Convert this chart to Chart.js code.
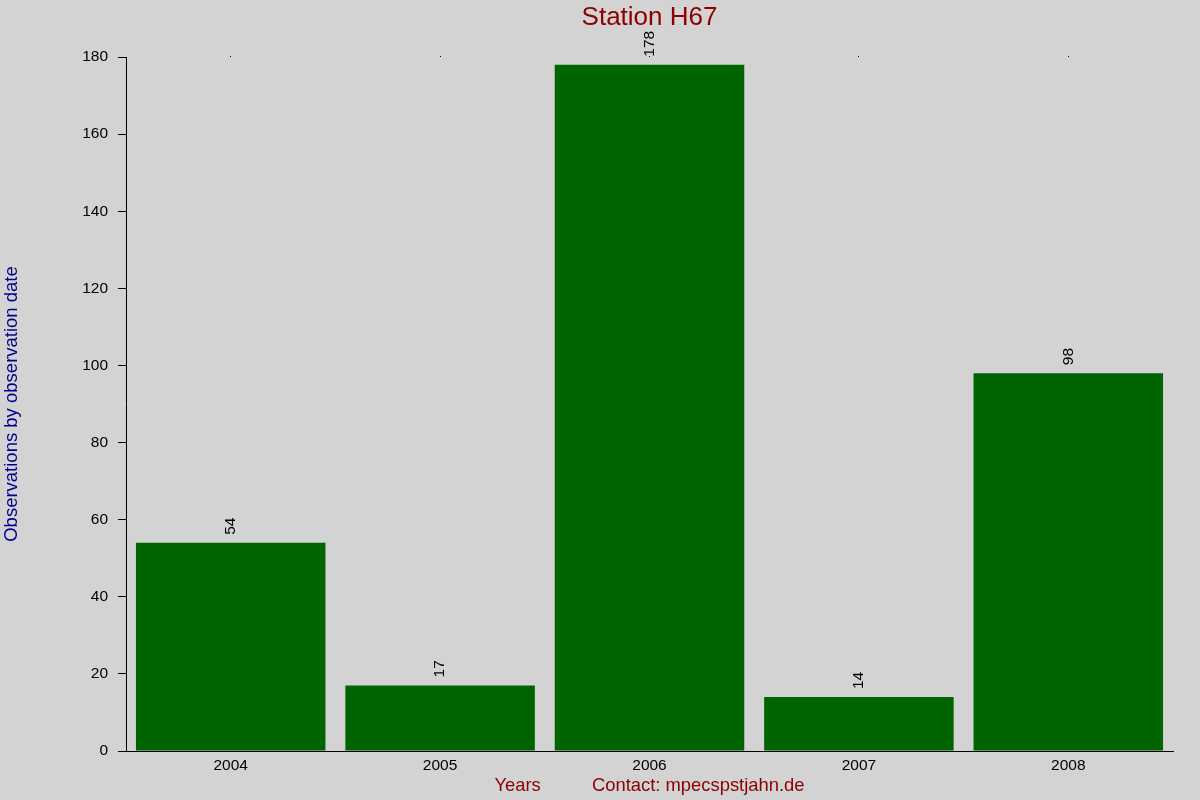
<!DOCTYPE html>
<html>
<head>
<meta charset="utf-8">
<script src="https://cdn.jsdelivr.net/npm/chart.js@4"></script>
<style>
  html, body { margin: 0; padding: 0; background: #d3d3d3; }
  #wrap { width: 1200px; height: 800px; position: relative; }
</style>
</head>
<body>
<div id="wrap"><canvas id="c"></canvas></div>
<script>
const years = ['2004', '2005', '2006', '2007', '2008'];
const observations = [54, 17, 178, 14, 98];
const yTicks = [0, 20, 40, 60, 80, 100, 120, 140, 160, 180];
const chartTitle = 'Station H67';

const FONT = "'Liberation Sans', Arial, sans-serif";

const bgPlugin = {
  id: 'bg',
  beforeDraw(chart) {
    const ctx = chart.ctx;
    ctx.save();
    ctx.fillStyle = '#d3d3d3';
    ctx.fillRect(0, 0, chart.width, chart.height);
    ctx.restore();
  }
};

const titlePlugin = {
  id: 'plotTitle',
  afterDraw(chart) {
    const ctx = chart.ctx;
    const a = chart.chartArea;
    ctx.save();
    ctx.fillStyle = '#8b0000';
    ctx.font = '26px ' + FONT;
    ctx.textAlign = 'center';
    ctx.textBaseline = 'middle';
    ctx.fillText(chartTitle, (a.left + a.right) / 2, 18);
    ctx.restore();
  }
};

const valueLabels = {
  id: 'valueLabels',
  afterDatasetsDraw(chart) {
    const ctx = chart.ctx;
    const meta = chart.getDatasetMeta(0);
    const data = chart.data.datasets[0].data;
    ctx.save();
    ctx.fillStyle = '#000';
    ctx.font = '15.5px ' + FONT;
    ctx.textAlign = 'left';
    ctx.textBaseline = 'middle';
    meta.data.forEach((bar, i) => {
      ctx.save();
      ctx.translate(bar.x, bar.y - 8);
      ctx.rotate(-Math.PI / 2);
      ctx.fillText(String(data[i]), 0, 0);
      ctx.restore();
    });
    ctx.restore();
  }
};

new Chart(document.getElementById('c'), {
  type: 'bar',
  data: {
    labels: years,
    datasets: [{
      data: observations,
      backgroundColor: '#006400',
      borderWidth: 0,
      barPercentage: 0.905,
      categoryPercentage: 1.0
    }]
  },
  options: {
    responsive: true,
    maintainAspectRatio: false,
    animation: false,
    devicePixelRatio: 1,
    layout: { padding: { left: 0, right: 27, top: 56, bottom: 0 } },
    plugins: {
      legend: { display: false },
      tooltip: { enabled: false },
      title: { display: false }
    },
    scales: {
      x: {
        position: 'bottom',
        offset: true,
        grid: { display: false, drawTicks: false },
        border: { display: true, color: '#000', width: 1 },
        ticks: {
          color: '#000',
          font: { family: FONT, size: 15.5 },
          padding: 5,
          maxRotation: 0
        },
        title: {
          display: true,
          text: 'Years          Contact: mpecspstjahn.de',
          color: '#8b0000',
          font: { family: FONT, size: 18.4 },
          padding: { top: 0, bottom: 3 }
        },
        afterFit(scale) { scale.height = 49; }
      },
      x2: {
        type: 'category',
        labels: years,
        position: 'top',
        offset: true,
        grid: { display: true, drawOnChartArea: false, drawTicks: true, tickLength: 1, color: '#000', offset: false },
        border: { display: false },
        ticks: { display: false },
        afterFit(scale) { scale.height = 1; }
      },
      y: {
        min: 0,
        max: 180,
        afterBuildTicks(scale) { scale.ticks = yTicks.map(v => ({ value: v })); },
        grid: { display: true, drawOnChartArea: false, drawTicks: true, tickLength: 8, color: '#000' },
        border: { display: true, color: '#000', width: 1 },
        ticks: {
          color: '#000',
          font: { family: FONT, size: 15.5 },
          padding: 10
        },
        title: {
          display: true,
          text: 'Observations by observation date',
          color: '#00008b',
          font: { family: FONT, size: 18.5 },
          padding: { top: 1, bottom: 0 }
        },
        afterFit(scale) { scale.width = 126; }
      }
    }
  },
  plugins: [bgPlugin, valueLabels, titlePlugin]
});
</script>
</body>
</html>
